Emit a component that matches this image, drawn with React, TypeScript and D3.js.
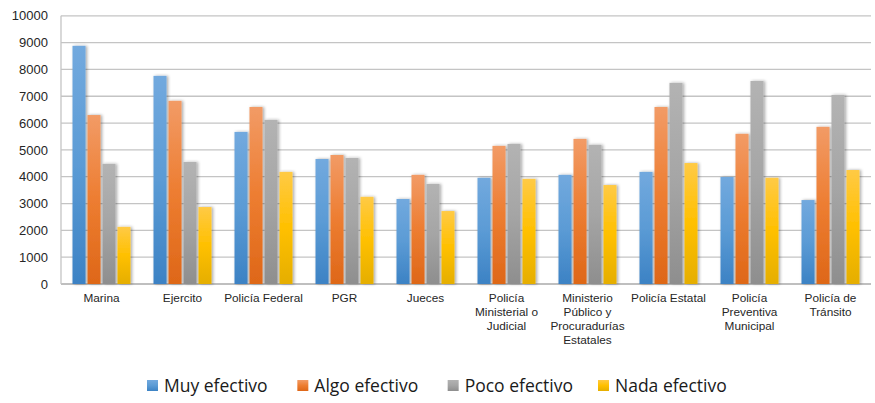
import React from "react";
import * as d3 from "d3";

const categories = [
  "Marina",
  "Ejercito",
  "Policía Federal",
  "PGR",
  "Jueces",
  "Policía\nMinisterial o\nJudicial",
  "Ministerio\nPúblico y\nProcuradurías\nEstatales",
  "Policía Estatal",
  "Policía\nPreventiva\nMunicipal",
  "Policía de\nTránsito",
];

const seriesNames = ["Muy efectivo", "Algo efectivo", "Poco efectivo", "Nada efectivo"];

const muyEfectivo = [8880, 7760, 5670, 4660, 3170, 3960, 4070, 4180, 3990, 3130];
const algoEfectivo = [6300, 6830, 6600, 4810, 4070, 5150, 5410, 6600, 5600, 5860];
const pocoEfectivo = [4480, 4550, 6120, 4700, 3730, 5220, 5190, 7500, 7570, 7050];
const nadaEfectivo = [2130, 2870, 4180, 3250, 2720, 3920, 3690, 4510, 3960, 4250];

const yTicks = [0, 1000, 2000, 3000, 4000, 5000, 6000, 7000, 8000, 9000, 10000];

const seriesValues = [muyEfectivo, algoEfectivo, pocoEfectivo, nadaEfectivo];

const gradients = [
  { id: "gBlue", top: "#72a9de", mid: "#5b9bd5", bottom: "#3c82c4" },
  { id: "gOrange", top: "#f29b66", mid: "#ed7d31", bottom: "#de6718" },
  { id: "gGray", top: "#b3b3b3", mid: "#a5a5a5", bottom: "#8e8e8e" },
  { id: "gYellow", top: "#ffca45", mid: "#ffc000", bottom: "#e5ae00" },
];

const W = 875;
const H = 403;
const left = 61;
const right = 871;
const top = 15.8;
const bottom = 284;

export default function App() {
  const x = d3.scaleBand<string>().domain(categories).range([left, right]).paddingInner(0).paddingOuter(0);
  const x1 = d3.scaleBand<string>().domain(seriesNames).range([-29, 29]).paddingInner(0.13);
  const y = d3.scaleLinear().domain([0, 10000]).range([bottom, top]);

  const legendX = d3.scaleLinear().domain([0, 3]).range([147, 598]);

  return (
    <svg width={W} height={H} style={{ position: "absolute", left: 0, top: 0, background: "#fff" }}>
      <defs>
        {gradients.map((g) => (
          <linearGradient key={g.id} id={g.id} x1="0" y1="0" x2="0" y2="1">
            <stop offset="0%" stopColor={g.top} />
            <stop offset="50%" stopColor={g.mid} />
            <stop offset="100%" stopColor={g.bottom} />
          </linearGradient>
        ))}
        <filter id="shadow" x="-30%" y="-10%" width="160%" height="120%">
          <feDropShadow dx="1.5" dy="0" stdDeviation="1.6" floodColor="#000" floodOpacity="0.35" />
        </filter>
      </defs>
      <rect x={0} y={0} width={W} height={H} fill="#fff" />
      {yTicks.map((t) => (
        <g key={t}>
          <line x1={left} x2={right} y1={y(t)} y2={y(t)} stroke={t === 0 ? "#bfbfbf" : "#c4c4c4"} strokeWidth={t === 0 ? 2 : 1.3} />
          <text
            x={48}
            y={y(t)}
            dy="0.36em"
            textAnchor="end"
            fontFamily="'Liberation Sans', Arial, sans-serif"
            fontSize={13}
            fill="#262626"
          >
            {t}
          </text>
        </g>
      ))}
      <line x1={left} x2={left} y1={top} y2={bottom} stroke="#c4c4c4" strokeWidth={1.3} />
      {categories.map((c, ci) => {
        const cx = (x(c) as number) + x.bandwidth() / 2;
        return (
          <g key={c}>
            {seriesNames.map((s, si) => {
              const v = seriesValues[si][ci];
              return (
                <rect
                  key={s}
                  x={cx + (x1(s) as number)}
                  y={y(v)}
                  width={x1.bandwidth()}
                  height={y(0) - y(v)}
                  fill={`url(#${gradients[si].id})`}
                  filter="url(#shadow)"
                />
              );
            })}
            <text
              x={cx}
              y={301.5}
              textAnchor="middle"
              fontFamily="'Liberation Sans', Arial, sans-serif"
              fontSize={11.8}
              fill="#262626"
            >
              {c.split("\n").map((line, li) => (
                <tspan key={li} x={cx} dy={li === 0 ? 0 : 14.3}>
                  {line}
                </tspan>
              ))}
            </text>
          </g>
        );
      })}
      {seriesNames.map((s, si) => {
        const lx = legendX(si);
        return (
          <g key={s}>
            <rect x={lx} y={380} width={11} height={11} fill={`url(#${gradients[si].id})`} />
            <text x={lx + 17} y={391.5} fontFamily="'Open Sans', sans-serif" fontSize={17.5} fill="#1a1a1a">
              {s}
            </text>
          </g>
        );
      })}
    </svg>
  );
}
